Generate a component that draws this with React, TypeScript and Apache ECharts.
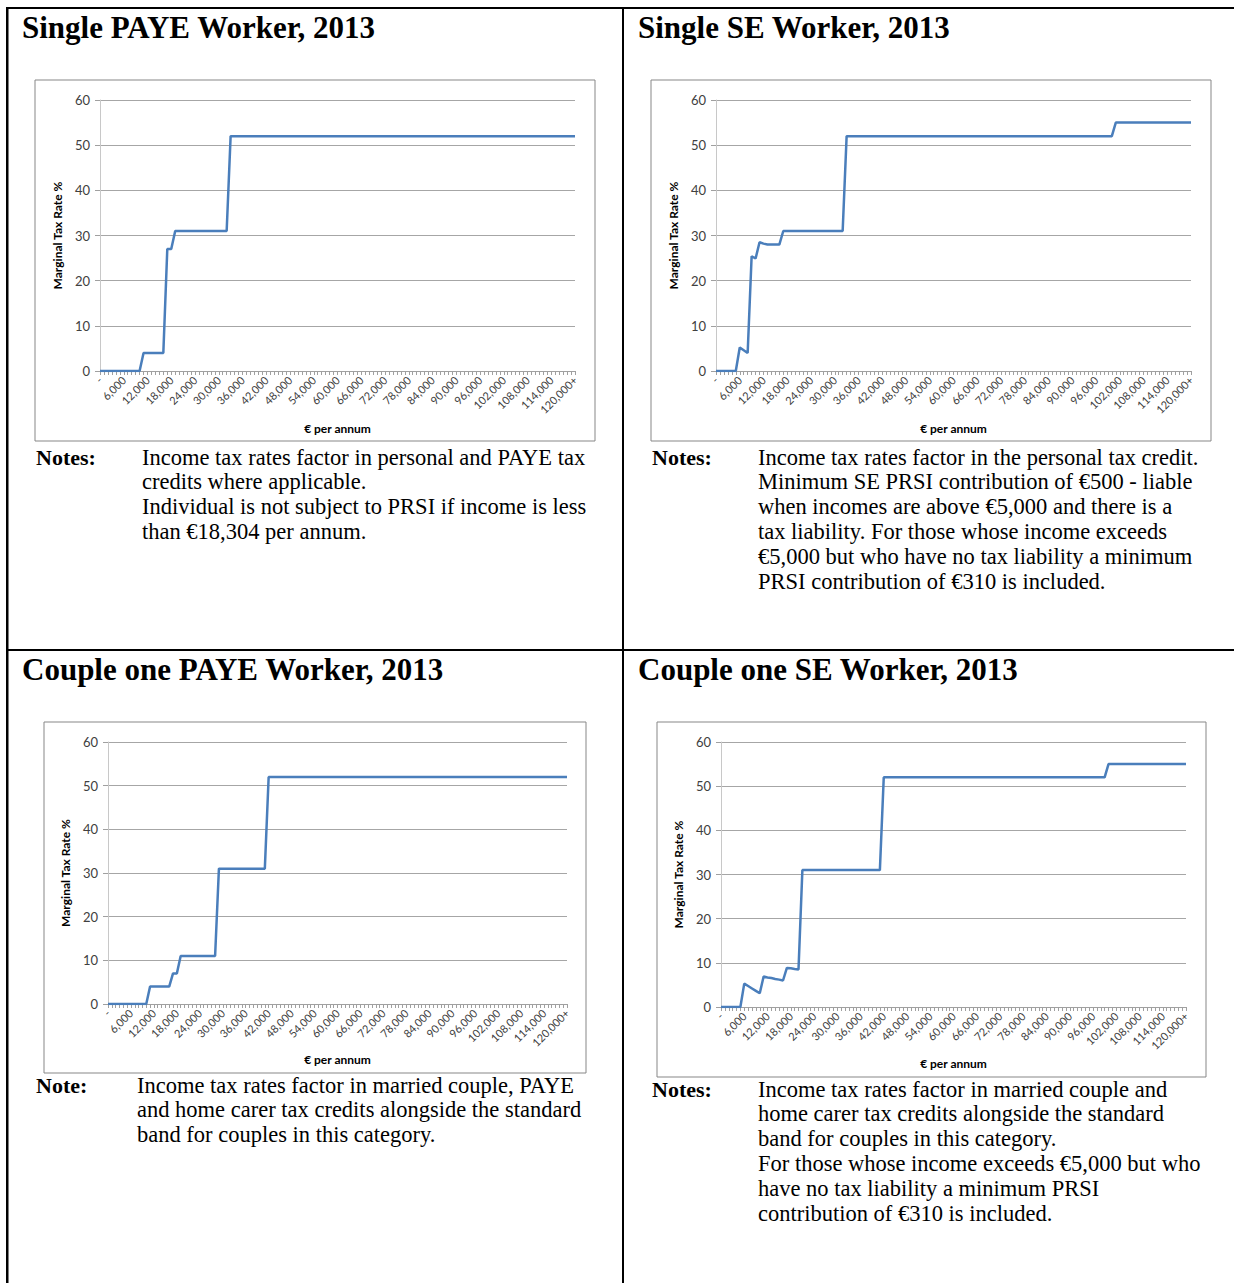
import React, { useEffect, useRef } from "react";
import * as echarts from "echarts";

// Income categories in €1,000 steps, from nil up to 120,000+
const incomeCategories: string[] = Array.from({ length: 121 }, (_, i) =>
  i === 0 ? "-" : i === 120 ? "120,000+" : (i * 1000).toLocaleString("en-US")
);

// Marginal tax rate (%) at each income step
const singlePaye = [
  0, 0, 0, 0, 0, 0, 0, 0, 0, 0, 0, 4, 4, 4, 4, 4, 4, 27, 27, 31,
  31, 31, 31, 31, 31, 31, 31, 31, 31, 31, 31, 31, 31, 52, 52, 52, 52, 52, 52, 52,
  52, 52, 52, 52, 52, 52, 52, 52, 52, 52, 52, 52, 52, 52, 52, 52, 52, 52, 52, 52,
  52, 52, 52, 52, 52, 52, 52, 52, 52, 52, 52, 52, 52, 52, 52, 52, 52, 52, 52, 52,
  52, 52, 52, 52, 52, 52, 52, 52, 52, 52, 52, 52, 52, 52, 52, 52, 52, 52, 52, 52,
  52, 52, 52, 52, 52, 52, 52, 52, 52, 52, 52, 52, 52, 52, 52, 52, 52, 52, 52, 52,
  52,
];

const singleSe = [
  0, 0, 0, 0, 0, 0, 5.2, 4.6, 4.0, 25.4, 24.9, 28.5, 28.2, 28, 28, 28, 28, 31, 31, 31,
  31, 31, 31, 31, 31, 31, 31, 31, 31, 31, 31, 31, 31, 52, 52, 52, 52, 52, 52, 52,
  52, 52, 52, 52, 52, 52, 52, 52, 52, 52, 52, 52, 52, 52, 52, 52, 52, 52, 52, 52,
  52, 52, 52, 52, 52, 52, 52, 52, 52, 52, 52, 52, 52, 52, 52, 52, 52, 52, 52, 52,
  52, 52, 52, 52, 52, 52, 52, 52, 52, 52, 52, 52, 52, 52, 52, 52, 52, 52, 52, 52,
  52, 55, 55, 55, 55, 55, 55, 55, 55, 55, 55, 55, 55, 55, 55, 55, 55, 55, 55, 55,
  55,
];

const couplePaye = [
  0, 0, 0, 0, 0, 0, 0, 0, 0, 0, 0, 4, 4, 4, 4, 4, 4, 7, 7, 11,
  11, 11, 11, 11, 11, 11, 11, 11, 11, 31, 31, 31, 31, 31, 31, 31, 31, 31, 31, 31,
  31, 31, 52, 52, 52, 52, 52, 52, 52, 52, 52, 52, 52, 52, 52, 52, 52, 52, 52, 52,
  52, 52, 52, 52, 52, 52, 52, 52, 52, 52, 52, 52, 52, 52, 52, 52, 52, 52, 52, 52,
  52, 52, 52, 52, 52, 52, 52, 52, 52, 52, 52, 52, 52, 52, 52, 52, 52, 52, 52, 52,
  52, 52, 52, 52, 52, 52, 52, 52, 52, 52, 52, 52, 52, 52, 52, 52, 52, 52, 52, 52,
  52,
];

const coupleSe = [
  0, 0, 0, 0, 0, 0, 5.3, 4.75, 4.2, 3.65, 3.1, 6.9, 6.7, 6.55, 6.35, 6.2, 6.0, 8.85, 8.75, 8.6,
  8.5, 31, 31, 31, 31, 31, 31, 31, 31, 31, 31, 31, 31, 31, 31, 31, 31, 31, 31, 31,
  31, 31, 52, 52, 52, 52, 52, 52, 52, 52, 52, 52, 52, 52, 52, 52, 52, 52, 52, 52,
  52, 52, 52, 52, 52, 52, 52, 52, 52, 52, 52, 52, 52, 52, 52, 52, 52, 52, 52, 52,
  52, 52, 52, 52, 52, 52, 52, 52, 52, 52, 52, 52, 52, 52, 52, 52, 52, 52, 52, 52,
  55, 55, 55, 55, 55, 55, 55, 55, 55, 55, 55, 55, 55, 55, 55, 55, 55, 55, 55, 55,
  55,
];

const rateTicks = { min: 0, max: 60, interval: 10 };

const panelTitles = [
  "Single PAYE Worker, 2013",
  "Single SE Worker, 2013",
  "Couple one PAYE Worker, 2013",
  "Couple one SE Worker, 2013",
];

const noteHeadings = ["Notes:", "Notes:", "Note:", "Notes:"];

const noteLines: string[][] = [
  [
    "Income tax rates factor in personal and PAYE tax",
    "credits where applicable.",
    "Individual is not subject to PRSI if income is less",
    "than €18,304 per annum.",
  ],
  [
    "Income tax rates factor in the personal tax credit.",
    "Minimum SE PRSI contribution of €500 - liable",
    "when incomes are above €5,000 and there is a",
    "tax liability. For those whose income exceeds",
    "€5,000 but who have no tax liability a minimum",
    "PRSI contribution of €310 is included.",
  ],
  [
    "Income tax rates factor in married couple, PAYE",
    "and home carer tax credits alongside the standard",
    "band for couples in this category.",
  ],
  [
    "Income tax rates factor in married couple and",
    "home carer tax credits alongside the standard",
    "band for couples in this category.",
    "For those whose income exceeds €5,000 but who",
    "have no tax liability a minimum PRSI",
    "contribution of €310 is included.",
  ],
];

const seriesValues = [singlePaye, singleSe, couplePaye, coupleSe];

// Panel geometry: plot area, chart frame, title and notes anchors
const panels = [
  {
    grid: { left: 100, top: 100, width: 475, height: 271 },
    frame: { x: 35, y: 80, width: 560, height: 361 },
    title: { x: 22, y: 27 },
    notes: { headX: 36, bodyX: 142, y: 457 },
    xNameGap: 51,
  },
  {
    grid: { left: 716, top: 100, width: 475, height: 271 },
    frame: { x: 651, y: 80, width: 560, height: 361 },
    title: { x: 638, y: 27 },
    notes: { headX: 652, bodyX: 758, y: 457 },
    xNameGap: 51,
  },
  {
    grid: { left: 108, top: 742, width: 459, height: 262 },
    frame: { x: 44, y: 722, width: 542, height: 351 },
    title: { x: 22, y: 669 },
    notes: { headX: 36, bodyX: 137, y: 1085 },
    xNameGap: 49,
  },
  {
    grid: { left: 721, top: 742, width: 465, height: 265 },
    frame: { x: 657, y: 722, width: 549, height: 355 },
    title: { x: 638, y: 669 },
    notes: { headX: 652, bodyX: 758, y: 1089 },
    xNameGap: 50,
  },
];

const SERIF = "'Liberation Serif', 'Times New Roman', serif";
const SANS = "Lato, 'Open Sans', sans-serif";
const LINE_STEP = 24.8;

export default function App() {
  const ref = useRef<HTMLDivElement>(null);

  useEffect(() => {
    if (!ref.current) return;
    const chart = echarts.init(ref.current, undefined, { renderer: "svg" });

    const graphic: any[] = [];

    // Table rules
    const black = { fill: "#000" };
    graphic.push(
      { type: "rect", shape: { x: 6, y: 7, width: 2.5, height: 1290 }, style: black, silent: true },
      { type: "rect", shape: { x: 6, y: 7, width: 1240, height: 2 }, style: black, silent: true },
      { type: "rect", shape: { x: 622, y: 7, width: 2, height: 1290 }, style: black, silent: true },
      { type: "rect", shape: { x: 6, y: 649, width: 1240, height: 2 }, style: black, silent: true }
    );

    panels.forEach((p, i) => {
      graphic.push({
        type: "rect",
        shape: p.frame,
        style: { fill: "none", stroke: "#878787", lineWidth: 1 },
        silent: true,
        z: -1,
      });
      graphic.push({
        type: "text",
        x: p.title.x,
        y: p.title.y,
        style: {
          text: panelTitles[i],
          fontFamily: SERIF,
          fontWeight: "bold",
          fontSize: 31,
          fill: "#000",
          align: "left",
          verticalAlign: "middle",
        },
      });
      graphic.push({
        type: "text",
        x: p.notes.headX,
        y: p.notes.y,
        style: {
          text: noteHeadings[i],
          fontFamily: SERIF,
          fontWeight: "bold",
          fontSize: 22,
          fill: "#000",
          align: "left",
          verticalAlign: "middle",
        },
      });
      noteLines[i].forEach((line, k) => {
        graphic.push({
          type: "text",
          x: p.notes.bodyX,
          y: p.notes.y + k * LINE_STEP,
          style: {
            text: line,
            fontFamily: SERIF,
            fontSize: 22.5,
            fill: "#000",
            align: "left",
            verticalAlign: "middle",
          },
        });
      });
    });

    const option: any = {
      animation: false,
      backgroundColor: "#fff",
      textStyle: { fontFamily: SANS },
      graphic,
      grid: panels.map((p) => ({ ...p.grid, containLabel: false })),
      xAxis: panels.map((p, i) => ({
        type: "category",
        gridIndex: i,
        data: incomeCategories,
        boundaryGap: false,
        axisLine: { lineStyle: { color: "#a0a0a0", width: 1 } },
        axisTick: { show: true, interval: 0, length: 4, lineStyle: { color: "#a0a0a0" } },
        axisLabel: {
          interval: 5,
          rotate: 45,
          fontSize: 11,
          color: "#404040",
          fontFamily: SANS,
          margin: 7,
        },
        splitLine: { show: false },
        name: "€ per annum",
        nameLocation: "middle",
        nameGap: p.xNameGap,
        nameTextStyle: { fontWeight: "bold", fontSize: 12, color: "#000", fontFamily: SANS },
      })),
      yAxis: panels.map((_, i) => ({
        type: "value",
        gridIndex: i,
        min: rateTicks.min,
        max: rateTicks.max,
        interval: rateTicks.interval,
        axisLine: { show: true, lineStyle: { color: "#c8c8c8", width: 1 } },
        axisTick: { show: true, length: 5, lineStyle: { color: "#a0a0a0" } },
        axisLabel: { fontSize: 13, color: "#404040", margin: 10, fontFamily: SANS },
        splitLine: { show: true, lineStyle: { color: "#a6a6a6", width: 1 } },
        name: "Marginal Tax Rate %",
        nameLocation: "middle",
        nameGap: 37,
        nameTextStyle: { fontWeight: "bold", fontSize: 12, color: "#000", fontFamily: SANS },
      })),
      series: seriesValues.map((values, i) => ({
        type: "line",
        xAxisIndex: i,
        yAxisIndex: i,
        data: values,
        symbol: "none",
        lineStyle: { color: "#4a7ebb", width: 2.5 },
        silent: true,
      })),
    };

    chart.setOption(option);
    return () => chart.dispose();
  }, []);

  return (
    <div
      ref={ref}
      style={{ position: "absolute", left: 0, top: 0, width: 1234, height: 1283, background: "#fff" }}
    />
  );
}
